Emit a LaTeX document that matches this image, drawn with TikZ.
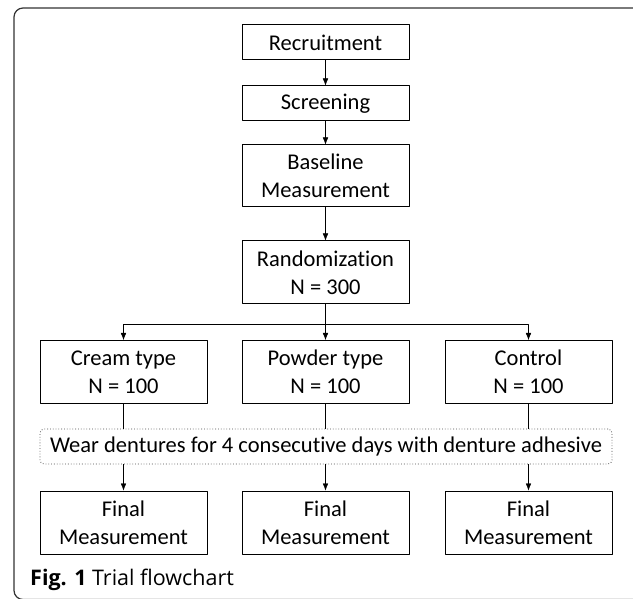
\documentclass[tikz,border=0pt]{standalone}
\usepackage{fontspec}
\setmainfont{Carlito}[Ligatures={NoCommon}]
\newfontfamily\capfont{Open Sans}
\usetikzlibrary{arrows.meta}
\begin{document}
\begin{tikzpicture}[line join=round, >={Latex[length=7pt,width=5.5pt]}, x=1pt, y=-1pt]
	\tikzset{box/.style={draw, line width=1pt, minimum width=167pt, inner sep=0pt, align=center, font=\fontsize{22.5}{28}\selectfont}}
	\useasboundingbox (0,0) rectangle (633,599);
	\begin{scope}
		\clip (0,0) rectangle (633,599);
		\draw[line width=1.2pt, rounded corners=9pt, black!80] (14,599.5) rectangle (660,8);
	\end{scope}
	% top column
	\node[box, minimum height=35pt] (rec) at (325.5,42.5) {Recruitment};
	\node[box, minimum height=35pt] (scr) at (325.5,103.5) {Screening};
	\node[box, minimum height=62pt] (base) at (325.5,176) {Baseline\\Measurement};
	\node[box, minimum height=63pt] (rand) at (325.5,272.5) {Randomization\\N = 300};
	\draw[->] (rec) -- (scr);
	\draw[->] (scr) -- (base);
	\draw[->] (base) -- (rand);
	% groups
	\node[box, minimum height=63pt] (cream) at (123.5,372) {Cream type\\N = 100};
	\node[box, minimum height=63pt] (powder) at (325.5,372) {Powder type\\N = 100};
	\node[box, minimum height=63pt] (control) at (528.5,372) {Control\\N = 100};
	\coordinate (split) at (325.5,324);
	\draw (rand) -- (split);
	\draw[->] (split) -| (cream);
	\draw[->] (split) -- (powder);
	\draw[->] (split) -| (control);
	\node[box, draw=black!70, line width=0.8pt, dotted, rounded corners=4pt, minimum width=572pt, minimum height=35pt] (wear) at (326,446.5) {Wear dentures for 4 consecutive days with denture adhesive};
	\foreach \g in {cream,powder,control}
	\draw (\g) -- (\g |- wear.north);
	% final
	\foreach \g/\f in {cream/fin1,powder/fin2,control/fin3}
	{
		\node[box, minimum height=63pt] (\f) at (\g |- 0,522.5) {Final\\Measurement};
		\draw[->] (\f |- wear.south) -- (\f);
	}
	\node[anchor=base west, inner sep=0pt, font=\capfont\fontsize{21.5}{26}\selectfont] (cap) at (30,585) {\textbf{Fig. 1} Trial flowchart};
\end{tikzpicture}
\end{document}
